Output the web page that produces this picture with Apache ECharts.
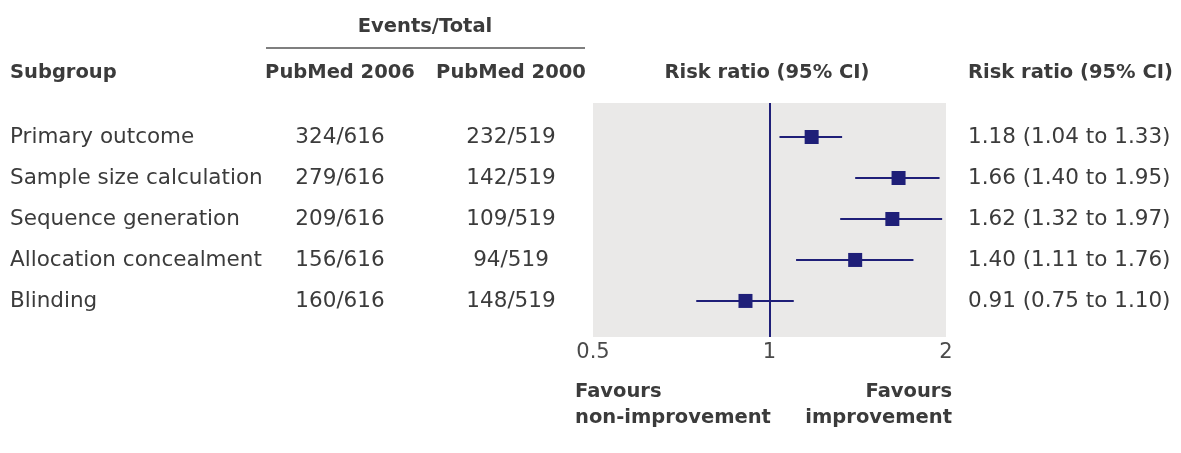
<!DOCTYPE html>
<html>
<head>
<meta charset="utf-8">
<script src="https://cdn.jsdelivr.net/npm/echarts@6/dist/echarts.min.js"></script>
<style>
  html, body { margin: 0; padding: 0; background: #ffffff; }
  #chart { width: 1181px; height: 453px; }
</style>
</head>
<body>
<div id="chart"></div>
<script>
// Forest plot: risk ratios of reporting items, PubMed 2006 vs PubMed 2000
const subgroups = ['Primary outcome', 'Sample size calculation', 'Sequence generation', 'Allocation concealment', 'Blinding'];
const events2006 = ['324/616', '279/616', '209/616', '156/616', '160/616'];
const events2000 = ['232/519', '142/519', '109/519', '94/519', '148/519'];
const riskRatio = [1.18, 1.66, 1.62, 1.40, 0.91];
const ciLower = [1.04, 1.40, 1.32, 1.11, 0.75];
const ciUpper = [1.33, 1.95, 1.97, 1.76, 1.10];
const xTicks = [0.5, 1, 2];

const FONT = '"DejaVu Sans"';
const TEXT = '#3b3b3b';
const NAVY = '#1f1f78';
const FS = 21.5;
const BOLD = 'bold 19.5px ' + FONT;

const rows = subgroups.map((s, i) => [riskRatio[i], i, ciLower[i], ciUpper[i]]);
const rrText = riskRatio.map((v, i) =>
  v.toFixed(2) + ' (' + ciLower[i].toFixed(2) + ' to ' + ciUpper[i].toFixed(2) + ')');

const chart = echarts.init(document.getElementById('chart'), null, { renderer: 'canvas' });

const option = {
  backgroundColor: '#ffffff',
  animation: false,
  textStyle: { fontFamily: FONT },
  grid: {
    left: 593, right: 235, top: 103, bottom: 116,
    show: true, backgroundColor: '#eae9e8', borderWidth: 0
  },
  xAxis: {
    type: 'log', logBase: 2, min: 0.5, max: 2,
    axisLine: { show: false }, axisTick: { show: false }, splitLine: { show: false },
    axisLabel: {
      margin: 5, fontFamily: FONT, fontSize: 21, color: '#4a4a4a',
      formatter: v => (xTicks.some(t => Math.abs(t - v) < 1e-6) ? String(+v.toFixed(2)) : '')
    }
  },
  yAxis: {
    type: 'value', inverse: true, min: -0.83, max: 4.88,
    show: false
  },
  graphic: [
    { type: 'text', x: 425, y: 27, style: { text: 'Events/Total', font: BOLD, fill: TEXT, align: 'center', verticalAlign: 'middle' } },
    { type: 'line', shape: { x1: 266, y1: 48, x2: 585, y2: 48 }, style: { stroke: '#555555', lineWidth: 1.5 } },
    { type: 'text', x: 10, y: 73, style: { text: 'Subgroup', font: BOLD, fill: TEXT, verticalAlign: 'middle' } },
    { type: 'text', x: 340, y: 73, style: { text: 'PubMed 2006', font: BOLD, fill: TEXT, align: 'center', verticalAlign: 'middle' } },
    { type: 'text', x: 511, y: 73, style: { text: 'PubMed 2000', font: BOLD, fill: TEXT, align: 'center', verticalAlign: 'middle' } },
    { type: 'text', x: 767, y: 73, style: { text: 'Risk ratio (95% CI)', font: BOLD, fill: TEXT, align: 'center', verticalAlign: 'middle' } },
    { type: 'text', x: 968, y: 73, style: { text: 'Risk ratio (95% CI)', font: BOLD, fill: TEXT, verticalAlign: 'middle' } },
    { type: 'text', x: 575, y: 379, style: { text: 'Favours\nnon-improvement', font: BOLD, fill: TEXT, lineHeight: 26 } },
    { type: 'text', x: 952, y: 379, style: { text: 'Favours\nimprovement', font: BOLD, fill: TEXT, align: 'right', lineHeight: 26 } }
  ],
  series: [
    {
      // reference line at RR = 1
      type: 'line', data: [], silent: true,
      markLine: {
        symbol: ['none', 'none'], silent: true, label: { show: false },
        lineStyle: { color: NAVY, width: 2, type: 'solid' },
        data: [{ xAxis: 1 }]
      }
    },
    {
      // confidence intervals
      type: 'custom', silent: true, data: rows,
      encode: { x: [0, 2, 3], y: 1 },
      renderItem: (params, api) => {
        const a = api.coord([api.value(2), api.value(1)]);
        const b = api.coord([api.value(3), api.value(1)]);
        return {
          type: 'line',
          shape: { x1: a[0], y1: a[1], x2: b[0], y2: b[1] },
          style: { stroke: NAVY, lineWidth: 2 }
        };
      }
    },
    {
      // point estimates
      type: 'scatter', data: rows.map(r => [r[0], r[1]]),
      symbol: 'rect', symbolSize: 14, itemStyle: { color: NAVY, opacity: 1 }, silent: true, z: 5
    },
    {
      // table columns, one row per subgroup
      type: 'custom', silent: true, data: rows,
      encode: { y: 1 },
      renderItem: (params, api) => {
        const i = params.dataIndex;
        const y = api.coord([1, api.value(1)])[1];
        const t = (x, text, align) => ({
          type: 'text', x: x, y: y,
          style: { text: text, font: FS + 'px ' + FONT, fill: TEXT, align: align, verticalAlign: 'middle' }
        });
        return {
          type: 'group',
          children: [
            t(10, subgroups[i], 'left'),
            t(340, events2006[i], 'center'),
            t(511, events2000[i], 'center'),
            t(968, rrText[i], 'left')
          ]
        };
      }
    }
  ]
};

chart.setOption(option);
</script>
</body>
</html>
